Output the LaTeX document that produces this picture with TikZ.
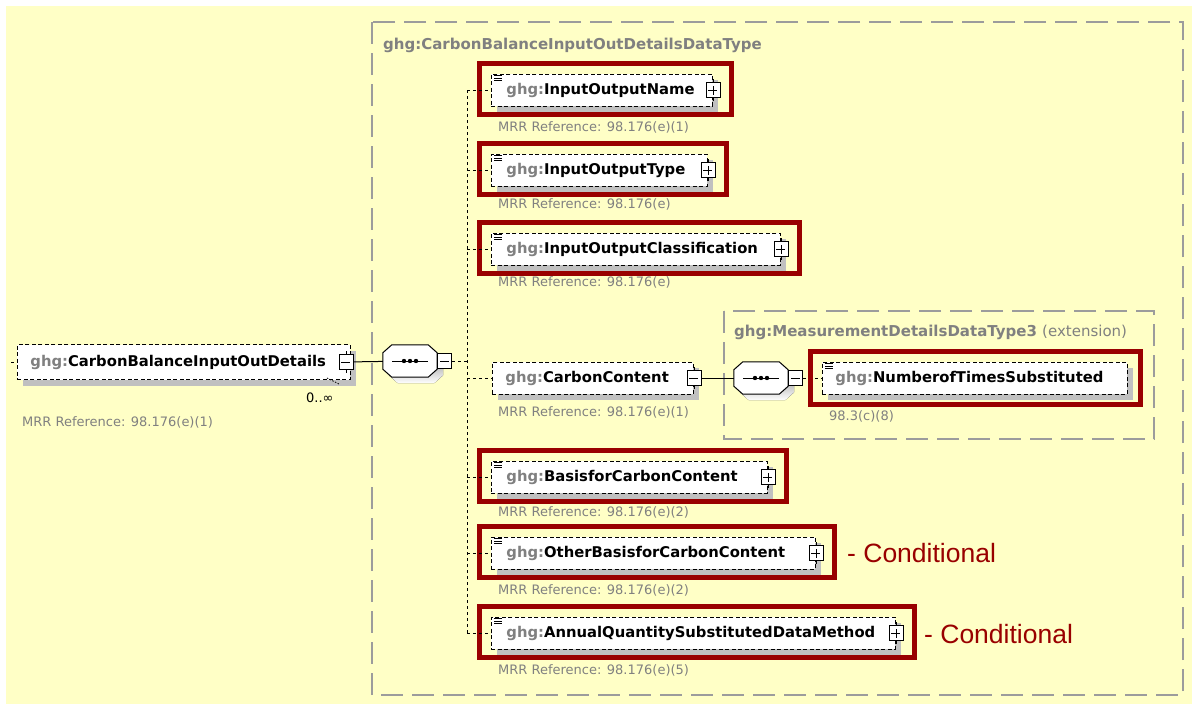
\documentclass[tikz,border=0pt]{standalone}
\usepackage{fontspec}
\usetikzlibrary{calc,positioning,shadows}
\newfontfamily\dvs{DejaVu Sans}
\newfontfamily\arial{Liberation Sans}
\definecolor{paper}{HTML}{FFFFC6}
\definecolor{frame}{HTML}{990000}
\definecolor{tgray}{HTML}{808080}
\definecolor{boxgray}{HTML}{9C9C9C}
\definecolor{shade}{HTML}{C0C0C0}
\newcommand{\ghg}[1]{\mbox{\textcolor{tgray}{ghg:}#1}}

\begin{document}
\begin{tikzpicture}[x=1pt, y=-1pt,
  elem/.style={draw, fill=white, line width=0.9pt, dash pattern=on 4pt off 2.5pt,
    anchor=west, align=left, inner xsep=15pt, inner ysep=0pt, minimum height=32pt,
    font=\dvs\bfseries\fontsize{14.8}{17}\selectfont,
    drop shadow={shadow xshift=6pt, shadow yshift=-6pt, fill=shade, opacity=1, draw=none}},
  pm/.style={draw, solid, fill=white, line width=0.8pt, minimum width=14pt,
    minimum height=15pt, inner sep=0pt},
  plusbox/.style={pm, path picture={
    \draw[solid, line width=0.8pt] ([xshift=-4.5pt]path picture bounding box.center) -- ([xshift=4.5pt]path picture bounding box.center)
      ([yshift=-4.5pt]path picture bounding box.center) -- ([yshift=4.5pt]path picture bounding box.center);}},
  minusbox/.style={pm, path picture={
    \draw[solid, line width=0.8pt] ([xshift=-4.5pt]path picture bounding box.center) -- ([xshift=4.5pt]path picture bounding box.center);}},
  stem/.style={solid, line width=0.8pt},
  seq/.style={minimum width=54pt, minimum height=32pt, inner sep=0pt},
  octo/.style={draw, solid, fill=white, line width=1pt},
  conn/.style={line width=1pt, dash pattern=on 3pt off 3pt},
  link/.style={line width=1pt},
  redframe/.style={draw=frame, line width=5pt},
  typebox/.style={draw=boxgray, line width=1.5pt, dash pattern=on 22pt off 9pt},
  typetitle/.style={anchor=west, text=tgray, inner sep=0pt, font=\dvs\bfseries\fontsize{15}{17}\selectfont},
  reftext/.style={anchor=west, text=tgray, inner sep=0pt, font=\dvs\fontsize{13}{15}\selectfont},
  cond/.style={anchor=west, text=frame, inner sep=0pt, font=\arial\fontsize{26.5}{30}\selectfont}
]
% background
\fill[paper] (6,6) rectangle (1192,704);
\useasboundingbox (0,0) rectangle (1192,704);

% type boxes
\draw[typebox] (372,22) rectangle (1183,695);
\node[typetitle] (outerTitle) at (383,45) {ghg:CarbonBalanceInputOutDetailsDataType};
\draw[typebox] (724,311) rectangle (1154,439);
\node[typetitle] (innerTitle) at (734,332) {ghg:MeasurementDetailsDataType3 {\mdseries (extension)}};

% root element
\node[elem, text width=307pt, inner xsep=13pt, minimum height=35pt] (root) at (17,362) {\ghg{CarbonBalanceInputOutDetails}};
\node[minusbox] (root-p) at ([xshift=-5pt]root.east) {};
\node[anchor=west, inner sep=0pt, font=\dvs\fontsize{13}{15}\selectfont] (rootMult) at (306,398) {0..∞};
\node[reftext] (rootRef) at (22,422) {MRR Reference: 98.176(e)(1)};
\coordinate (rootStub) at (11,362);
\draw[conn] (rootStub) -- (root.west);
\draw[line width=0.8pt, dash pattern=on 1.5pt off 1.5pt] ($(root.south east)+(-24,-2)$) -- ++(12,6);

% sequences
\node[seq] (seqMain) at (410,361) {};
\node[seq] (seqSub) at (761,378) {};
\foreach \s in {seqMain,seqSub} {
  \fill[shade] ($(\s.north west)+(15,6)$) -- ($(\s.north east)+(-3,6)$) -- ($(\s.north east)+(6,14)$)
    -- ($(\s.south east)+(6,-2)$) -- ($(\s.south east)+(-3,6)$) -- ($(\s.south west)+(15,6)$)
    -- ($(\s.south west)+(6,-2)$) -- ($(\s.north west)+(6,14)$) -- cycle;
  \draw[octo] ($(\s.north west)+(9,0)$) -- ($(\s.north east)+(-9,0)$) -- ($(\s.north east)+(0,8)$)
    -- ($(\s.south east)+(0,-8)$) -- ($(\s.south east)+(-9,0)$) -- ($(\s.south west)+(9,0)$)
    -- ($(\s.south west)+(0,-8)$) -- ($(\s.north west)+(0,8)$) -- cycle;
  \draw[link] ($(\s.center)+(-18,0)$) -- ($(\s.center)+(18,0)$);
  \foreach \d in {-6,0,6} \fill ($(\s.center)+(\d,0)$) circle (2.2pt);
}
\node[minusbox, anchor=west] (seqMainMinus) at (seqMain.east) {};
\node[minusbox, anchor=west] (seqSubMinus) at (seqSub.east) {};
\draw[link] (root-p) -- (seqMain);
\coordinate (spineTop) at (467,90);
\coordinate (spineBot) at (467,633);
\draw[conn] (spineTop) -- (spineBot);
\draw[conn] (seqMainMinus) -- (seqMainMinus -| spineTop);

% children
\node[elem, text width=191pt] (ioName) at (491,90) {\ghg{InputOutputName}};
\node[plusbox] (ioName-p) at (ioName.east) {};
\node[reftext] (ioNameRef) at (498,127) {MRR Reference: 98.176(e)(1)};

\node[elem, text width=186pt] (ioType) at (491,170) {\ghg{InputOutputType}};
\node[plusbox] (ioType-p) at (ioType.east) {};
\node[reftext] (ioTypeRef) at (498,204) {MRR Reference: 98.176(e)};

\node[elem, text width=259pt] (ioClass) at (491,249) {\ghg{InputOutputClassification}};
\node[plusbox] (ioClass-p) at (ioClass.east) {};
\node[reftext] (ioClassRef) at (498,282) {MRR Reference: 98.176(e)};

\node[elem, text width=175pt, inner xsep=13pt] (cContent) at (492,378) {\ghg{CarbonContent}};
\node[minusbox] (cContent-p) at (cContent.east) {};
\node[reftext] (cContentRef) at (498,412) {MRR Reference: 98.176(e)(1)};

\node[elem, text width=246pt] (cBasis) at (491,477) {\ghg{BasisforCarbonContent}};
\node[plusbox] (cBasis-p) at (cBasis.east) {};
\node[reftext] (cBasisRef) at (498,512) {MRR Reference: 98.176(e)(2)};

\node[elem, text width=294pt] (cOther) at (491,553) {\ghg{OtherBasisforCarbonContent}};
\node[plusbox] (cOther-p) at (cOther.east) {};
\node[reftext] (cOtherRef) at (498,590) {MRR Reference: 98.176(e)(2)};
\node[cond] (cOtherCond) at (847,553) {- Conditional};

\node[elem, text width=374pt] (qMethod) at (491,633) {\ghg{AnnualQuantitySubstitutedDataMethod}};
\node[plusbox] (qMethod-p) at (qMethod.east) {};
\node[reftext] (qMethodRef) at (498,670) {MRR Reference: 98.176(e)(5)};
\node[cond] (qMethodCond) at (924,634) {- Conditional};

\foreach \n in {ioName,ioType,ioClass,cBasis,cOther,qMethod} {
  \draw[redframe] ($(\n.north west)+(-11.5,-10.5)$) rectangle ($(\n.south east)+(19,8.5)$);
  \foreach \k in {0,2.5,5} \draw[line width=0.8pt] ($(\n.north west)+(3,2+\k)$) -- ++(8,0);
}
\foreach \n in {root,ioName,ioType,ioClass,cContent,cBasis,cOther,qMethod}
  \draw[stem] (\n-p.north) -- ++(0,-3) (\n-p.south) -- ++(0,3);
\foreach \n in {ioName,ioType,ioClass,cContent,cBasis,cOther,qMethod}
  \draw[conn] (\n.west -| spineTop) -- (\n.west);

% extension
\draw[link] (cContent-p) -- (seqSub);
\node[elem, text width=279pt, inner xsep=13pt] (nTimes) at (822,378) {\ghg{NumberofTimesSubstituted}};
\draw[conn] (seqSubMinus) -- (nTimes);
\draw[redframe] ($(nTimes.north west)+(-11.5,-10.5)$) rectangle ($(nTimes.south east)+(12.5,10.5)$);
\foreach \k in {0,2.5,5} \draw[line width=0.8pt] ($(nTimes.north west)+(3,2+\k)$) -- ++(8,0);
\node[reftext] (nTimesRef) at (829,416) {98.3(c)(8)};

\end{tikzpicture}
\end{document}
